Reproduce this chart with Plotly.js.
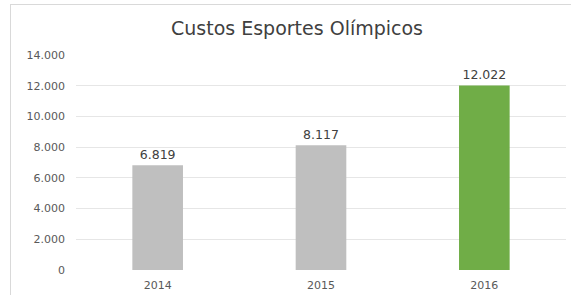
<!DOCTYPE html>
<html>
<head>
<meta charset="utf-8">
<script src="https://cdn.plot.ly/plotly-3.0.1.min.js"></script>
<style>
html,body{margin:0;padding:0;background:#fff;overflow:hidden;width:571px;height:295px;}
#frame{position:absolute;left:10px;top:4px;width:640px;height:340px;border:1.5px solid #d9d9d9;box-sizing:border-box;}
#chart{width:571px;height:295px;position:absolute;left:0;top:0;}
</style>
</head>
<body>
<div id="frame"></div>
<div id="chart"></div>
<script>
var categories = ['2014', '2015', '2016'];
var values = [6819, 8117, 12022];
var labels = ['6.819', '8.117', '12.022'];
var barColors = ['#bfbfbf', '#bfbfbf', '#70ad47'];
var tickVals = [0, 2000, 4000, 6000, 8000, 10000, 12000, 14000];
var tickText = ['0', '2.000', '4.000', '6.000', '8.000', '10.000', '12.000', '14.000'];

var font = '"DejaVu Sans", "Open Sans", sans-serif';

var trace = {
  type: 'bar',
  x: categories,
  y: values,
  text: labels,
  textposition: 'outside',
  cliponaxis: false,
  textfont: {family: font, size: 12.5, color: '#404040'},
  marker: {color: barColors},
  hoverinfo: 'none'
};

var layout = {
  width: 571,
  height: 295,
  margin: {l: 76, r: 5, t: 55, b: 25},
  paper_bgcolor: 'rgba(0,0,0,0)',
  plot_bgcolor: 'rgba(0,0,0,0)',
  showlegend: false,
  bargap: 0.69,
  title: {
    text: 'Custos Esportes Olímpicos',
    font: {family: font, size: 19, color: '#404040'},
    x: 297 / 571,
    xref: 'container',
    xanchor: 'center',
    y: 1 - 28 / 295,
    yref: 'container',
    yanchor: 'middle'
  },
  xaxis: {
    type: 'category',
    showgrid: false,
    zeroline: false,
    showline: false,
    ticks: '',
    ticklabelstandoff: 7,
    tickfont: {family: font, size: 11, color: '#595959'}
  },
  yaxis: {
    range: [0, 14000],
    tickmode: 'array',
    tickvals: tickVals,
    ticktext: tickText,
    showgrid: true,
    gridcolor: '#e6e6e6',
    gridwidth: 1,
    zeroline: false,
    showline: false,
    ticks: '',
    ticklabelstandoff: 10,
    tickfont: {family: font, size: 11, color: '#595959'}
  }
};

Plotly.newPlot('chart', [trace], layout, {displayModeBar: false, staticPlot: true});
</script>
</body>
</html>
